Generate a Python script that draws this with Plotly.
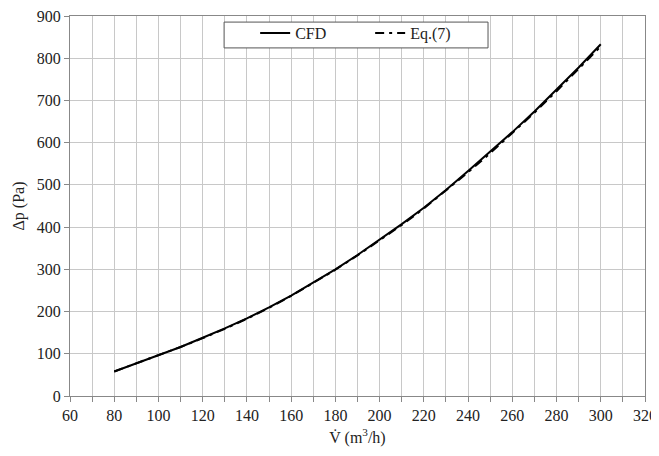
import plotly.graph_objects as go

flow = [80, 90, 100, 110, 120, 130, 140, 150, 160, 170, 180, 190, 200, 210, 220, 230, 240, 250, 260, 270, 280, 290, 300]
dp_cfd = [58, 77, 96, 116, 138, 160, 184, 210, 238, 268, 300, 334, 370, 407, 446, 488, 533, 578, 625, 674, 725, 778, 833]
dp_eq7 = [58, 77, 96, 116, 137, 159, 183, 209, 237, 267, 299, 333, 368, 405, 444, 486, 530, 575, 622, 671, 722, 774, 828]

font = "Liberation Serif, serif"

fig = go.Figure()
fig.add_trace(go.Scatter(x=flow, y=dp_cfd, mode="lines", name="CFD",
                         line=dict(color="black", width=2)))
fig.add_trace(go.Scatter(x=flow, y=dp_eq7, mode="lines", name="Eq.(7)",
                         line=dict(color="black", width=2, dash="9px,5px,3px,5px")))

# legend frame
fig.add_shape(type="rect", xref="paper", yref="paper",
              x0=0.268, x1=0.727, y0=0.916, y1=0.984,
              line=dict(color="#555", width=1), fillcolor="white", layer="above")

fig.update_layout(
    width=651, height=440,
    margin=dict(l=62, r=14, t=8, b=52, autoexpand=False),
    plot_bgcolor="white", paper_bgcolor="white",
    font=dict(family=font, size=15, color="#222"),
    showlegend=True,
    legend=dict(orientation="h", x=0.322, xanchor="left", y=1.0, yanchor="top",
                borderwidth=0, bgcolor="rgba(0,0,0,0)",
                font=dict(family=font, size=16, color="#222"),
                entrywidthmode="pixels", entrywidth=70),
    xaxis=dict(range=[60, 320], dtick=20, tick0=60, showgrid=True, gridcolor="#c8c8c8",
               gridwidth=1, showline=True, linecolor="#888", linewidth=1, mirror=True,
               ticks="outside", ticklen=5, tickcolor="#888", zeroline=False, automargin=False,
               ticklabeloverflow="allow",
               tickfont=dict(family=font, size=16, color="#222"),
               minor=dict(dtick=10, showgrid=True, gridcolor="#c8c8c8", ticks="outside",
                          ticklen=5, tickcolor="#888"),
               title=dict(text="V̇ (m<sup>3</sup>/h)", font=dict(family=font, size=16), standoff=8)),
    yaxis=dict(range=[0, 900], dtick=100, showgrid=True, gridcolor="#c8c8c8",
               showline=True, linecolor="#888", linewidth=1, mirror=True,
               ticks="outside", ticklen=5, tickcolor="#888", zeroline=False, automargin=False,
               ticklabeloverflow="allow",
               tickfont=dict(family=font, size=16, color="#222"),
               title=dict(text="Δp (Pa)", font=dict(family=font, size=16), standoff=8)),
)

fig.write_html("out.html")
